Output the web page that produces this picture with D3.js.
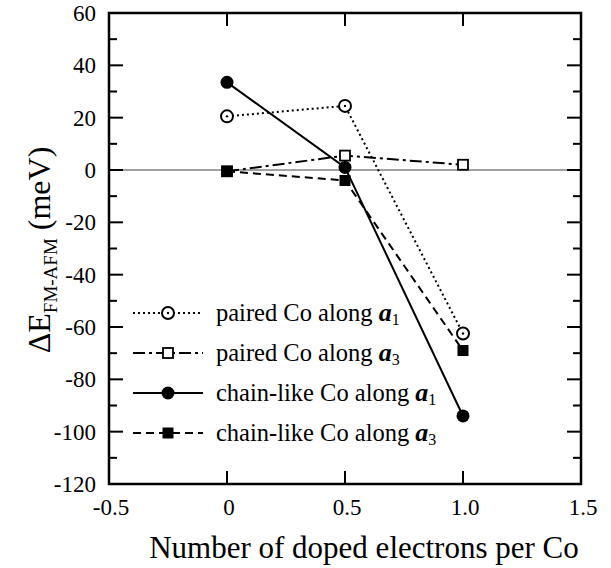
<!DOCTYPE html>
<html>
<head>
<meta charset="utf-8">
<script src="https://cdn.jsdelivr.net/npm/d3@7"></script>
<style>
  body { margin: 0; background: #fff; }
  text { font-family: "Liberation Serif", "Times New Roman", serif; fill: #000; }
</style>
</head>
<body>
<div id="graphic"></div>
<script>
var xValues = [0, 0.5, 1.0];
var pairedA1 = [20.5, 24.5, -62.5];
var pairedA3 = [-0.5, 5.5, 2];
var chainA1 = [33.5, 1, -94];
var chainA3 = [-0.5, -4, -69];
var xTicks = [-0.5, 0, 0.5, 1.0, 1.5];
var xTickLabels = ["-0.5", "0", "0.5", "1.0", "1.5"];
var yTicks = [-120, -100, -80, -60, -40, -20, 0, 20, 40, 60];

var width = 611;
var height = 568;
var plotLeft = 109, plotRight = 581, plotTop = 13, plotBottom = 484;

var series = [
  { label: "paired Co along ", sub: "1", values: pairedA1, dash: "2,3", marker: "openCircle" },
  { label: "paired Co along ", sub: "3", values: pairedA3, dash: "12,4,3,4", marker: "openSquare" },
  { label: "chain-like Co along ", sub: "1", values: chainA1, dash: null, marker: "circle" },
  { label: "chain-like Co along ", sub: "3", values: chainA3, dash: "8,5", marker: "square" }
];

var svg = d3.select("#graphic").append("svg")
  .attr("width", width)
  .attr("height", height);

var xScale = d3.scaleLinear().domain([-0.5, 1.5]).range([plotLeft, plotRight]);
var yScale = d3.scaleLinear().domain([-120, 60]).range([plotBottom, plotTop]);

// zero line
svg.append("line")
  .attr("x1", plotLeft).attr("x2", plotRight)
  .attr("y1", yScale(0)).attr("y2", yScale(0))
  .attr("stroke", "#444").attr("stroke-width", 1);

// ticks, all pointing inward
var yMinor = d3.range(-110, 60, 20);
function drawYTicks(vals, len) {
  svg.selectAll(null).data(vals).enter().append("line")
    .attr("x1", plotLeft).attr("x2", plotLeft + len)
    .attr("y1", d => yScale(d)).attr("y2", d => yScale(d))
    .attr("stroke", "#000").attr("stroke-width", 2);
  svg.selectAll(null).data(vals).enter().append("line")
    .attr("x1", plotRight).attr("x2", plotRight - len)
    .attr("y1", d => yScale(d)).attr("y2", d => yScale(d))
    .attr("stroke", "#000").attr("stroke-width", 2);
}
drawYTicks(yTicks.slice(1, -1), 14);
drawYTicks(yMinor, 8);

var xInner = xTicks.slice(1, -1);
svg.selectAll(null).data(xInner).enter().append("line")
  .attr("x1", d => xScale(d)).attr("x2", d => xScale(d))
  .attr("y1", plotBottom).attr("y2", plotBottom - 13)
  .attr("stroke", "#000").attr("stroke-width", 2);
svg.selectAll(null).data(xInner).enter().append("line")
  .attr("x1", d => xScale(d)).attr("x2", d => xScale(d))
  .attr("y1", plotTop).attr("y2", plotTop + 13)
  .attr("stroke", "#000").attr("stroke-width", 2);

// frame
svg.append("rect")
  .attr("x", plotLeft).attr("y", plotTop)
  .attr("width", plotRight - plotLeft).attr("height", plotBottom - plotTop)
  .attr("fill", "none").attr("stroke", "#000").attr("stroke-width", 2.5);

// tick labels
svg.selectAll(null).data(yTicks).enter().append("text")
  .attr("x", plotLeft - 13)
  .attr("y", d => yScale(d) + 8)
  .attr("text-anchor", "end")
  .attr("font-size", 23)
  .text(d => d);

svg.selectAll(null).data(xTicks).enter().append("text")
  .attr("x", (d, i) => xScale(d) + (i == 0 ? 2 : 2))
  .attr("y", plotBottom + 31)
  .attr("text-anchor", "middle")
  .attr("font-size", 23)
  .text((d, i) => xTickLabels[i]);

// axis titles
svg.append("text")
  .attr("x", (plotLeft + plotRight) / 2 + 19)
  .attr("y", 558)
  .attr("text-anchor", "middle")
  .attr("font-size", 31)
  .text("Number of doped electrons per Co");

var yTitle = svg.append("text")
  .attr("transform", "translate(50," + 250 + ") rotate(-90)")
  .attr("text-anchor", "middle")
  .attr("font-size", 32);
yTitle.append("tspan").text("ΔE");
yTitle.append("tspan").attr("font-size", 19).attr("dy", 7).text("FM-AFM");
yTitle.append("tspan").attr("dy", -7).text(" (meV)");

// markers
function drawMarker(g, type, x, y) {
  if (type == "openCircle") {
    g.append("circle").attr("cx", x).attr("cy", y).attr("r", 6)
      .attr("fill", "#fff").attr("stroke", "#000").attr("stroke-width", 2);
    g.append("circle").attr("cx", x).attr("cy", y).attr("r", 1.2).attr("fill", "#000");
  } else if (type == "openSquare") {
    g.append("rect").attr("x", x - 5).attr("y", y - 5).attr("width", 10).attr("height", 10)
      .attr("fill", "#fff").attr("stroke", "#000").attr("stroke-width", 1.8);
  } else if (type == "circle") {
    g.append("circle").attr("cx", x).attr("cy", y).attr("r", 6.5).attr("fill", "#000");
  } else {
    g.append("rect").attr("x", x - 5.5).attr("y", y - 5.5).attr("width", 11).attr("height", 11)
      .attr("fill", "#000");
  }
}

var line = d3.line()
  .x((d, i) => xScale(xValues[i]))
  .y(d => yScale(d));

series.forEach(function(s) {
  svg.append("path")
    .datum(s.values)
    .attr("d", line)
    .attr("fill", "none")
    .attr("stroke", "#000")
    .attr("stroke-width", 2)
    .attr("stroke-dasharray", s.dash);
});

series.forEach(function(s) {
  var g = svg.append("g");
  s.values.forEach(function(v, i) {
    drawMarker(g, s.marker, xScale(xValues[i]), yScale(v));
  });
});

// legend
var legendY = [313, 353, 393, 433];
series.forEach(function(s, i) {
  var y = legendY[i];
  var g = svg.append("g");
  g.append("line")
    .attr("x1", 133).attr("x2", 203)
    .attr("y1", y).attr("y2", y)
    .attr("stroke", "#000").attr("stroke-width", 2)
    .attr("stroke-dasharray", s.dash);
  drawMarker(g, s.marker, 168, y);
  var t = g.append("text")
    .attr("x", 216).attr("y", y + 8)
    .attr("font-size", 24.5);
  t.append("tspan").text(s.label);
  t.append("tspan").attr("font-weight", "bold").attr("font-style", "italic").attr("font-size", 26).text("a");
  t.append("tspan").attr("font-size", 16).attr("dy", 4).text(s.sub);
});
</script>
</body>
</html>
